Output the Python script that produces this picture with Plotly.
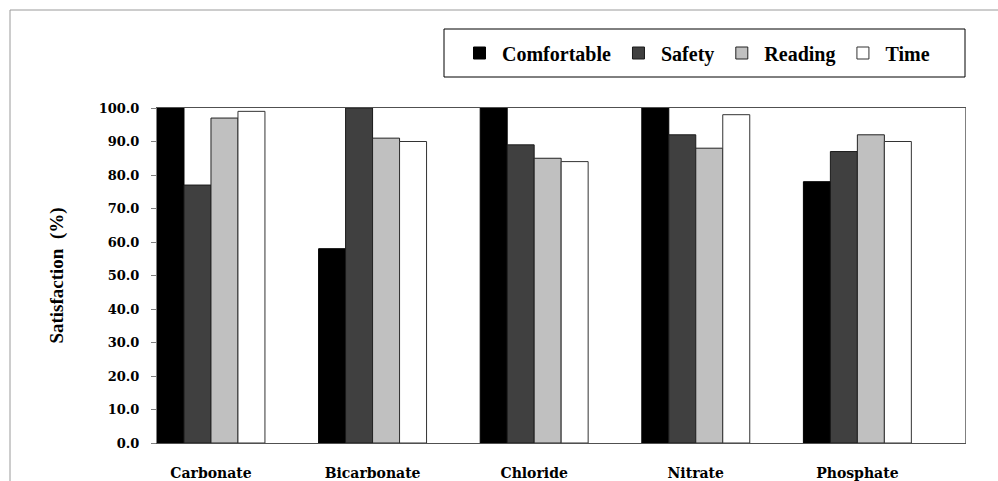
import plotly.graph_objects as go

categories = ["Carbonate", "Bicarbonate", "Chloride", "Nitrate", "Phosphate"]
series_names = ["Comfortable", "Safety", "Reading", "Time"]
comfortable = [100, 58, 100, 100, 78]
safety = [77, 100, 89, 92, 87]
reading = [97, 91, 85, 88, 92]
time_vals = [99, 90, 84, 98, 90]
y_ticks = [0, 10, 20, 30, 40, 50, 60, 70, 80, 90, 100]

series_values = [comfortable, safety, reading, time_vals]
fill_colors = ["#000000", "#404040", "#C0C0C0", "#FFFFFF"]
line_colors = ["#000000", "#1a1a1a", "#222222", "#333333"]

fig = go.Figure()
for name, vals, fc, lc in zip(series_names, series_values, fill_colors, line_colors):
    fig.add_trace(go.Bar(
        x=categories, y=vals, name=name,
        marker=dict(color=fc, line=dict(color=lc, width=1)),
    ))

W, H = 998, 481
L, R, T, B = 157, 33, 108, 38
pw = W - L - R
ph = H - T - B

def px_x(p):
    return (p - L) / pw

def px_y(p):
    return (H - B - p) / ph

shapes = [
    # outer chart-area frame (gray, top and left visible)
    dict(type="line", xref="paper", yref="paper", x0=px_x(10), x1=px_x(1005),
         y0=px_y(10), y1=px_y(10), line=dict(color="#9a9a9a", width=1)),
    dict(type="line", xref="paper", yref="paper", x0=px_x(10), x1=px_x(10),
         y0=px_y(10), y1=px_y(490), line=dict(color="#9a9a9a", width=1)),
    # legend box
    dict(type="rect", xref="paper", yref="paper", x0=px_x(444), x1=px_x(965),
         y0=px_y(77), y1=px_y(29), line=dict(color="#000000", width=1),
         fillcolor="rgba(0,0,0,0)"),
]

fig.update_layout(
    width=W, height=H,
    margin=dict(l=L, r=R, t=T, b=B, autoexpand=False),
    paper_bgcolor="white", plot_bgcolor="white",
    barmode="group", bargap=0.332, bargroupgap=0,
    showlegend=True,
    legend=dict(orientation="h", x=px_x(457), xanchor="left",
                y=px_y(53), yanchor="middle", itemwidth=35,
                font=dict(family="Liberation Serif", size=20, color="black", weight="bold"),
                bgcolor="rgba(0,0,0,0)", borderwidth=0, traceorder="normal"),
    shapes=shapes,
)

fig.update_xaxes(
    type="category", range=[-0.334, 4.666],
    showline=True, linecolor="#505050", linewidth=1, mirror=True,
    ticks="", showgrid=False, zeroline=False,
    tickfont=dict(family="DejaVu Serif", size=14, color="black", weight="bold"),
    ticklabelstandoff=17,
)
fig.update_yaxes(
    range=[0, 100], tickvals=y_ticks, tickformat=".1f",
    showline=True, linecolor="#808080", linewidth=1, mirror=True,
    ticks="outside", ticklen=5, tickcolor="#808080",
    showgrid=False, zeroline=False,
    tickfont=dict(family="DejaVu Serif", size=13, color="black", weight="bold"),
    ticklabelstandoff=9,
    title=dict(text="Satisfaction  (%)", standoff=30,
               font=dict(family="Liberation Serif", size=19, color="black", weight="bold")),
)

fig.write_html(
    "out.html",
    config={"displayModeBar": False},
    post_script="document.body.style.margin='0';document.body.style.overflow='hidden';",
)
